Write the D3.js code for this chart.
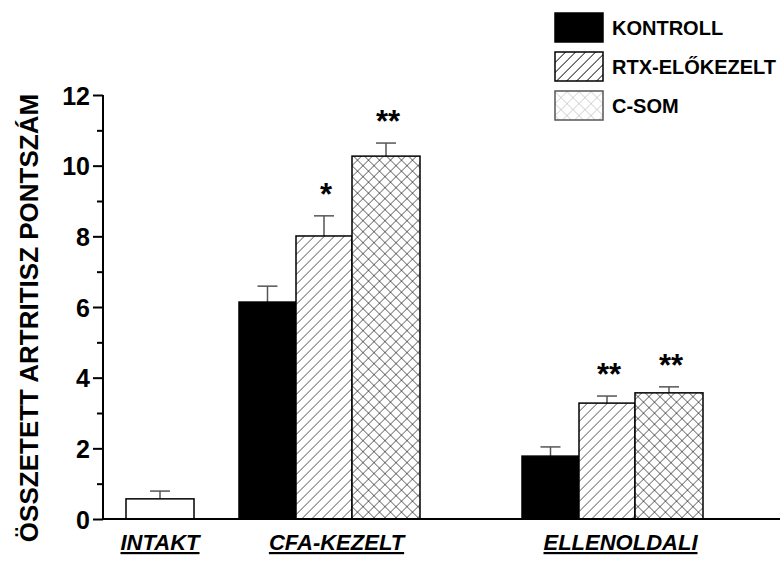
<!DOCTYPE html>
<html>
<head>
<meta charset="utf-8">
<script src="https://cdn.jsdelivr.net/npm/d3@7"></script>
<style>
  html, body { margin: 0; padding: 0; background: #fff; }
  svg { display: block; font-family: "Liberation Sans", Arial, sans-serif; }
</style>
</head>
<body>
<svg id="chart" width="781" height="567"></svg>
<script>
// Groups along the x axis
const groups = ["INTAKT", "CFA-KEZELT", "ELLENOLDALI"];
// Series (legend entries)
const seriesNames = ["KONTROLL", "RTX-ELŐKEZELT", "C-SOM"];

// Mean composite arthritis scores per group (null = not measured)
const intaktValues   = [0.57, null, null];
const kontrollValues = [null, 6.14, 1.78];
const rtxValues      = [null, 8.01, 3.28];
const csomValues     = [null, 10.27, 3.57];

// Standard errors (upper whisker only)
const intaktErrors   = [0.22, null, null];
const kontrollErrors = [null, 0.45, 0.26];
const rtxErrors      = [null, 0.57, 0.20];
const csomErrors     = [null, 0.37, 0.17];

// Significance marks above the bars
const kontrollStars = ["", "", ""];
const rtxStars      = ["", "*", "**"];
const csomStars     = ["", "**", "**"];

// Y axis tick labels
const yTickLabels = [0, 2, 4, 6, 8, 10, 12];
const yMinorTicks = [1, 3, 5, 7, 9, 11];

// ---- layout ----
const axisLeft = 103, axisRight = 780, plotTop = 95, plotBottom = 519;
const y = d3.scaleLinear().domain([0, 12]).range([plotBottom, plotTop]);
// left edge of each group's first bar
const groupX = d3.scaleOrdinal().domain(groups).range([126, 239, 522]);
const labelShift = [0, 7, 8];

const svg = d3.select("#chart");
const defs = svg.append("defs");

function hatchPattern(id, period, stroke, width) {
  const w = period / Math.SQRT2;
  const p = defs.append("pattern").attr("id", id)
    .attr("patternUnits", "userSpaceOnUse")
    .attr("width", w).attr("height", w)
    .attr("patternTransform", "rotate(45)");
  p.append("rect").attr("width", w).attr("height", w).attr("fill", "#fff");
  p.append("line").attr("x1", 0).attr("y1", 0).attr("x2", 0).attr("y2", w)
    .attr("stroke", stroke).attr("stroke-width", width);
}
function crossPattern(id, period, stroke, width) {
  const w = period / Math.SQRT2;
  const p = defs.append("pattern").attr("id", id)
    .attr("patternUnits", "userSpaceOnUse")
    .attr("width", w).attr("height", w)
    .attr("patternTransform", "rotate(45)");
  p.append("rect").attr("width", w).attr("height", w).attr("fill", "#fff");
  p.append("line").attr("x1", 0).attr("y1", 0).attr("x2", 0).attr("y2", w)
    .attr("stroke", stroke).attr("stroke-width", width);
  p.append("line").attr("x1", 0).attr("y1", 0).attr("x2", w).attr("y2", 0)
    .attr("stroke", stroke).attr("stroke-width", width);
}
hatchPattern("hatch", 10, "#000", 1);
crossPattern("cross", 11, "#000", 1);
hatchPattern("hatchLegend", 10, "#000", 1.5);
crossPattern("crossLegend", 12, "#b4b4b4", 1);

// series definitions for drawing
const series = [
  { values: intaktValues,   errors: intaktErrors,   stars: ["", "", ""], fill: "#fff",         width: 68, offset: 0 },
  { values: kontrollValues, errors: kontrollErrors, stars: kontrollStars, fill: "#000",        width: 57, offset: 0 },
  { values: rtxValues,      errors: rtxErrors,      stars: rtxStars,      fill: "url(#hatch)", width: 56, offset: 57 },
  { values: csomValues,     errors: csomErrors,     stars: csomStars,     fill: "url(#cross)", width: 68, offset: 113 }
];

const bars = [];
series.forEach(s => {
  s.values.forEach((v, i) => {
    if (v == null) return;
    bars.push({ group: groups[i], value: v, err: s.errors[i], star: s.stars[i],
                fill: s.fill, width: s.width, offset: s.offset });
  });
});

const g = svg.append("g");

// error whiskers
const eb = g.selectAll(".err").data(bars).join("g").attr("class", "err")
  .attr("stroke", "#555").attr("stroke-width", 1.5);
eb.append("line")
  .attr("x1", d => groupX(d.group) + d.offset + d.width / 2)
  .attr("x2", d => groupX(d.group) + d.offset + d.width / 2)
  .attr("y1", d => y(d.value))
  .attr("y2", d => y(d.value + d.err));
eb.append("line")
  .attr("x1", d => groupX(d.group) + d.offset + d.width / 2 - 10)
  .attr("x2", d => groupX(d.group) + d.offset + d.width / 2 + 10)
  .attr("y1", d => y(d.value + d.err))
  .attr("y2", d => y(d.value + d.err));

// bars
g.selectAll(".bar").data(bars).join("rect").attr("class", "bar")
  .attr("x", d => groupX(d.group) + d.offset)
  .attr("width", d => d.width)
  .attr("y", d => y(d.value))
  .attr("height", d => y(0) - y(d.value))
  .attr("fill", d => d.fill)
  .attr("stroke", "#000").attr("stroke-width", 1.5);

// significance stars
g.selectAll(".star").data(bars.filter(d => d.star)).join("text").attr("class", "star")
  .attr("x", d => groupX(d.group) + d.offset + d.width / 2 + 2)
  .attr("y", d => y(d.value + d.err) - 11)
  .attr("text-anchor", "middle")
  .attr("font-size", 31).attr("font-weight", "bold")
  .text(d => d.star);

// y axis: minor and major ticks
const minorAxis = d3.axisLeft(y).tickValues(yMinorTicks).tickSize(6).tickFormat("");
const majorAxis = d3.axisLeft(y).tickValues(yTickLabels).tickSize(10).tickPadding(3)
  .tickFormat(d3.format("d"));
const ga1 = svg.append("g").attr("transform", `translate(${axisLeft},0)`).call(minorAxis);
const ga2 = svg.append("g").attr("transform", `translate(${axisLeft},0)`).call(majorAxis);
[ga1, ga2].forEach(a => {
  a.select(".domain").remove();
  a.selectAll(".tick line").attr("stroke", "#000").attr("stroke-width", 2);
});
ga2.selectAll(".tick text")
  .attr("font-family", "Liberation Sans, Arial, sans-serif")
  .attr("font-size", 25).attr("font-weight", "bold").attr("fill", "#000")
  .attr("dy", "0.36em");

// axis lines
svg.append("line").attr("x1", axisLeft).attr("x2", axisLeft)
  .attr("y1", plotTop).attr("y2", plotBottom + 1)
  .attr("stroke", "#000").attr("stroke-width", 2);
svg.append("line").attr("x1", axisLeft - 1).attr("x2", axisRight)
  .attr("y1", plotBottom).attr("y2", plotBottom)
  .attr("stroke", "#000").attr("stroke-width", 2);

// group labels
const groupWidths = [68, 181, 181];
svg.selectAll(".glabel").data(groups).join("text").attr("class", "glabel")
  .attr("x", (d, i) => groupX(d) + groupWidths[i] / 2 + labelShift[i])
  .attr("y", 550)
  .attr("text-anchor", "middle")
  .attr("font-size", 22).attr("font-weight", "bold").attr("font-style", "italic")
  .style("text-decoration", "underline")
  .text(d => d);

// y axis title
svg.append("text")
  .attr("transform", "translate(38,318) rotate(-90)")
  .attr("text-anchor", "middle")
  .attr("font-size", 26).attr("font-weight", "bold")
  .text("ÖSSZETETT ARTRITISZ PONTSZÁM");

// legend
const legendFills = ["#000", "url(#hatchLegend)", "url(#crossLegend)"];
const lg = svg.append("g").selectAll("g").data(seriesNames).join("g")
  .attr("transform", (d, i) => `translate(555,${13 + i * 39})`);
lg.append("rect").attr("width", 48).attr("height", 29)
  .attr("fill", (d, i) => legendFills[i])
  .attr("stroke", (d, i) => i === 2 ? "#555" : "#000").attr("stroke-width", 1.5);
lg.append("text").attr("x", 57).attr("y", 15).attr("dy", "0.36em")
  .attr("font-size", 20).attr("font-weight", "bold")
  .text(d => d);
</script>
</body>
</html>
